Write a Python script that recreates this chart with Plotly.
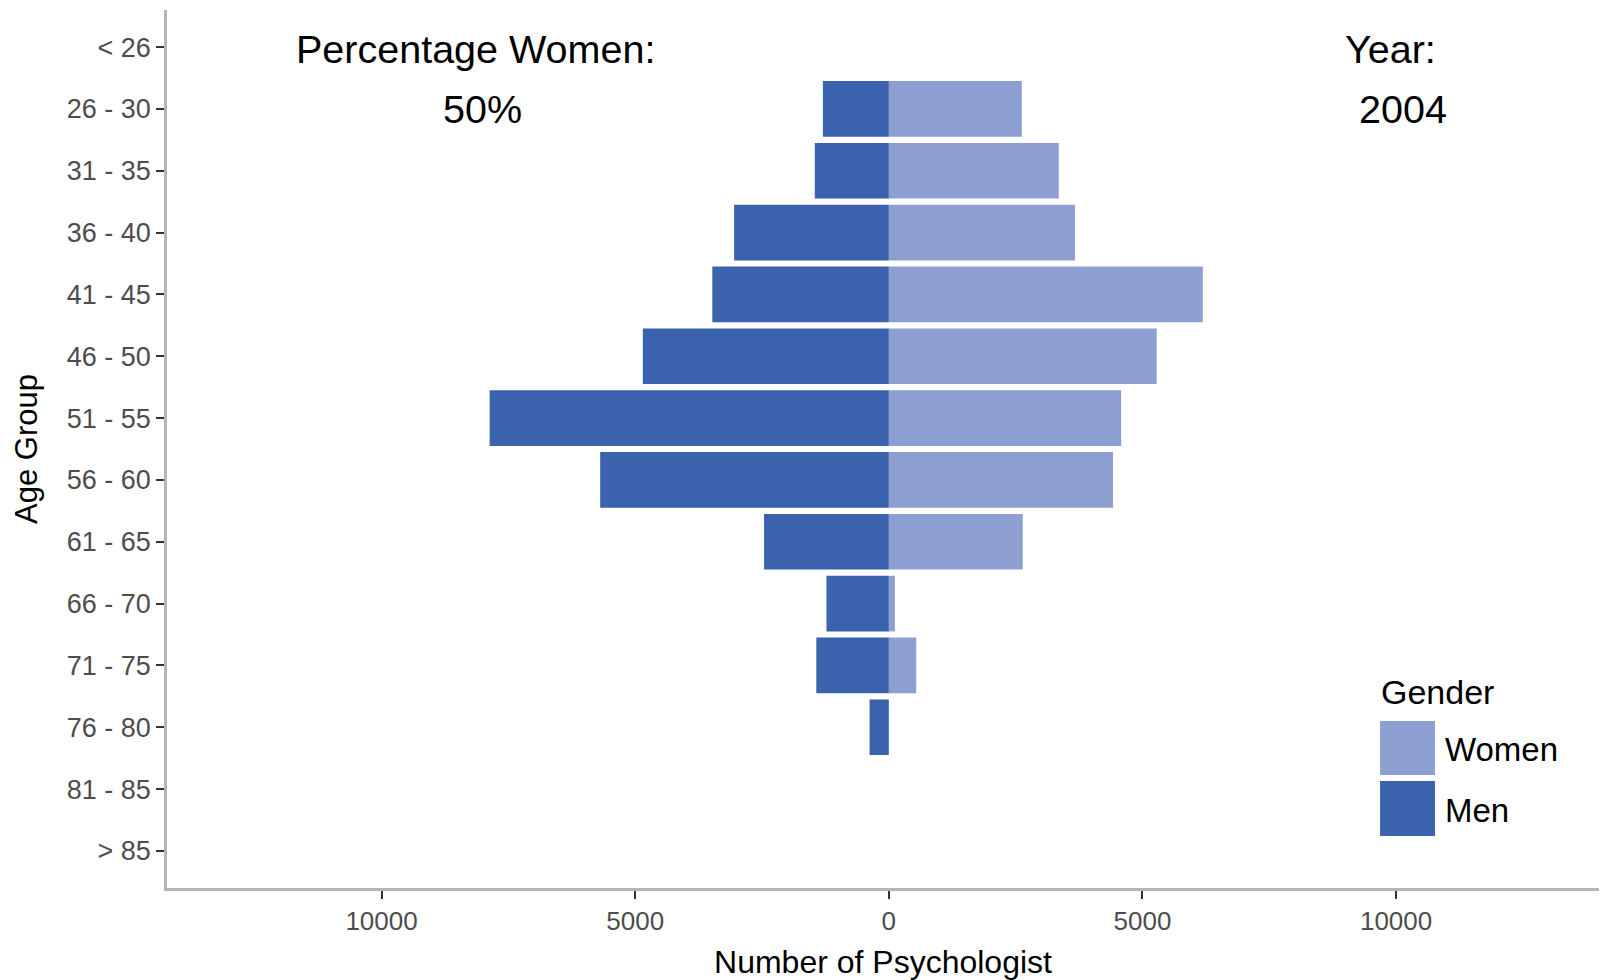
import plotly.graph_objects as go

age_groups = ["< 26", "26 - 30", "31 - 35", "36 - 40", "41 - 45", "46 - 50", "51 - 55",
              "56 - 60", "61 - 65", "66 - 70", "71 - 75", "76 - 80", "81 - 85", "> 85"]
women = [0, 2620, 3350, 3670, 6190, 5280, 4580, 4420, 2640, 120, 540, 0, 0, 0]
men = [0, -1300, -1460, -3050, -3480, -4850, -7870, -5690, -2460, -1230, -1430, -380, 0, 0]
x_tick_values = [-10000, -5000, 0, 5000, 10000]
x_tick_labels = ["10000", "5000", "0", "5000", "10000"]
year = "2004"
pct_women = "50%"

FONT = "Liberation Sans, Arial, sans-serif"
WOMEN_COLOR = "#8D9FD1"
MEN_COLOR = "#3B63AD"

fig = go.Figure()
fig.add_trace(go.Bar(y=age_groups, x=women, orientation="h", name="Women", legendgroup="w",
                     marker=dict(color=WOMEN_COLOR, line=dict(width=0))))
fig.add_trace(go.Bar(y=age_groups, x=men, orientation="h", name="Men", legendgroup="m",
                     marker=dict(color=MEN_COLOR, line=dict(width=0))))

fig.update_layout(
    width=1604, height=980,
    margin=dict(l=167, r=5, t=10, b=92),
    plot_bgcolor="white", paper_bgcolor="white",
    barmode="relative", bargap=0.1,
    font=dict(family=FONT, color="black"),
    showlegend=True,
    legend=dict(
        font=dict(size=33, family=FONT, color="black"),
        x=0.8645, y=0.1915, xanchor="left", yanchor="top",
        bgcolor="rgba(0,0,0,0)", traceorder="grouped", tracegroupgap=15,
    ),
)

# large legend keys (ggplot style) sitting under the native legend symbols
fig.add_shape(type="rect", xref="paper", yref="paper", x0=0.8471, x1=0.8855, y0=0.1287, y1=0.1902,
              fillcolor=WOMEN_COLOR, line=dict(width=0), layer="above")
fig.add_shape(type="rect", xref="paper", yref="paper", x0=0.8471, x1=0.8855, y0=0.0592, y1=0.1219,
              fillcolor=MEN_COLOR, line=dict(width=0), layer="above")
fig.add_annotation(x=0.8464, y=0.2232, xref="paper", yref="paper", text="Gender",
                   xanchor="left", yanchor="middle", showarrow=False,
                   font=dict(size=34, family=FONT, color="black"))

fig.update_xaxes(
    range=[-14230, 14000],
    tickvals=x_tick_values, ticktext=x_tick_labels,
    tickfont=dict(size=26, color="#4D4D4D", family=FONT),
    ticks="outside", ticklen=8, tickwidth=2, tickcolor="#333333",
    showline=True, linecolor="#B5B5B5", linewidth=2.5,
    showgrid=False, zeroline=False,
    title=dict(text="Number of Psychologist", font=dict(size=32, color="black", family=FONT), standoff=16),
)
fig.update_yaxes(
    categoryorder="array", categoryarray=age_groups,
    range=[13.6, -0.6],
    tickfont=dict(size=27, color="#4D4D4D", family=FONT),
    ticks="outside", ticklen=8, tickwidth=2, tickcolor="#333333",
    showline=True, linecolor="#B5B5B5", linewidth=2.5,
    showgrid=False, zeroline=False,
    title=dict(text="Age Group", font=dict(size=31, color="black", family=FONT), standoff=20),
)

ann_font = dict(size=39.5, family=FONT, color="black")
fig.add_annotation(x=-8140, y=age_groups[0], xref="x", yref="y", text="Percentage Women:",
                   showarrow=False, yshift=-2, font=ann_font)
fig.add_annotation(x=-8020, y=age_groups[1], xref="x", yref="y", text=pct_women,
                   showarrow=False, font=ann_font)
fig.add_annotation(x=9890, y=age_groups[0], xref="x", yref="y", text="Year:",
                   showarrow=False, yshift=-2, font=ann_font)
fig.add_annotation(x=10130, y=age_groups[1], xref="x", yref="y", text=year,
                   showarrow=False, font=ann_font)

fig.write_html("out.html", config={"displayModeBar": False},
               post_script="document.body.style.margin='0';")
